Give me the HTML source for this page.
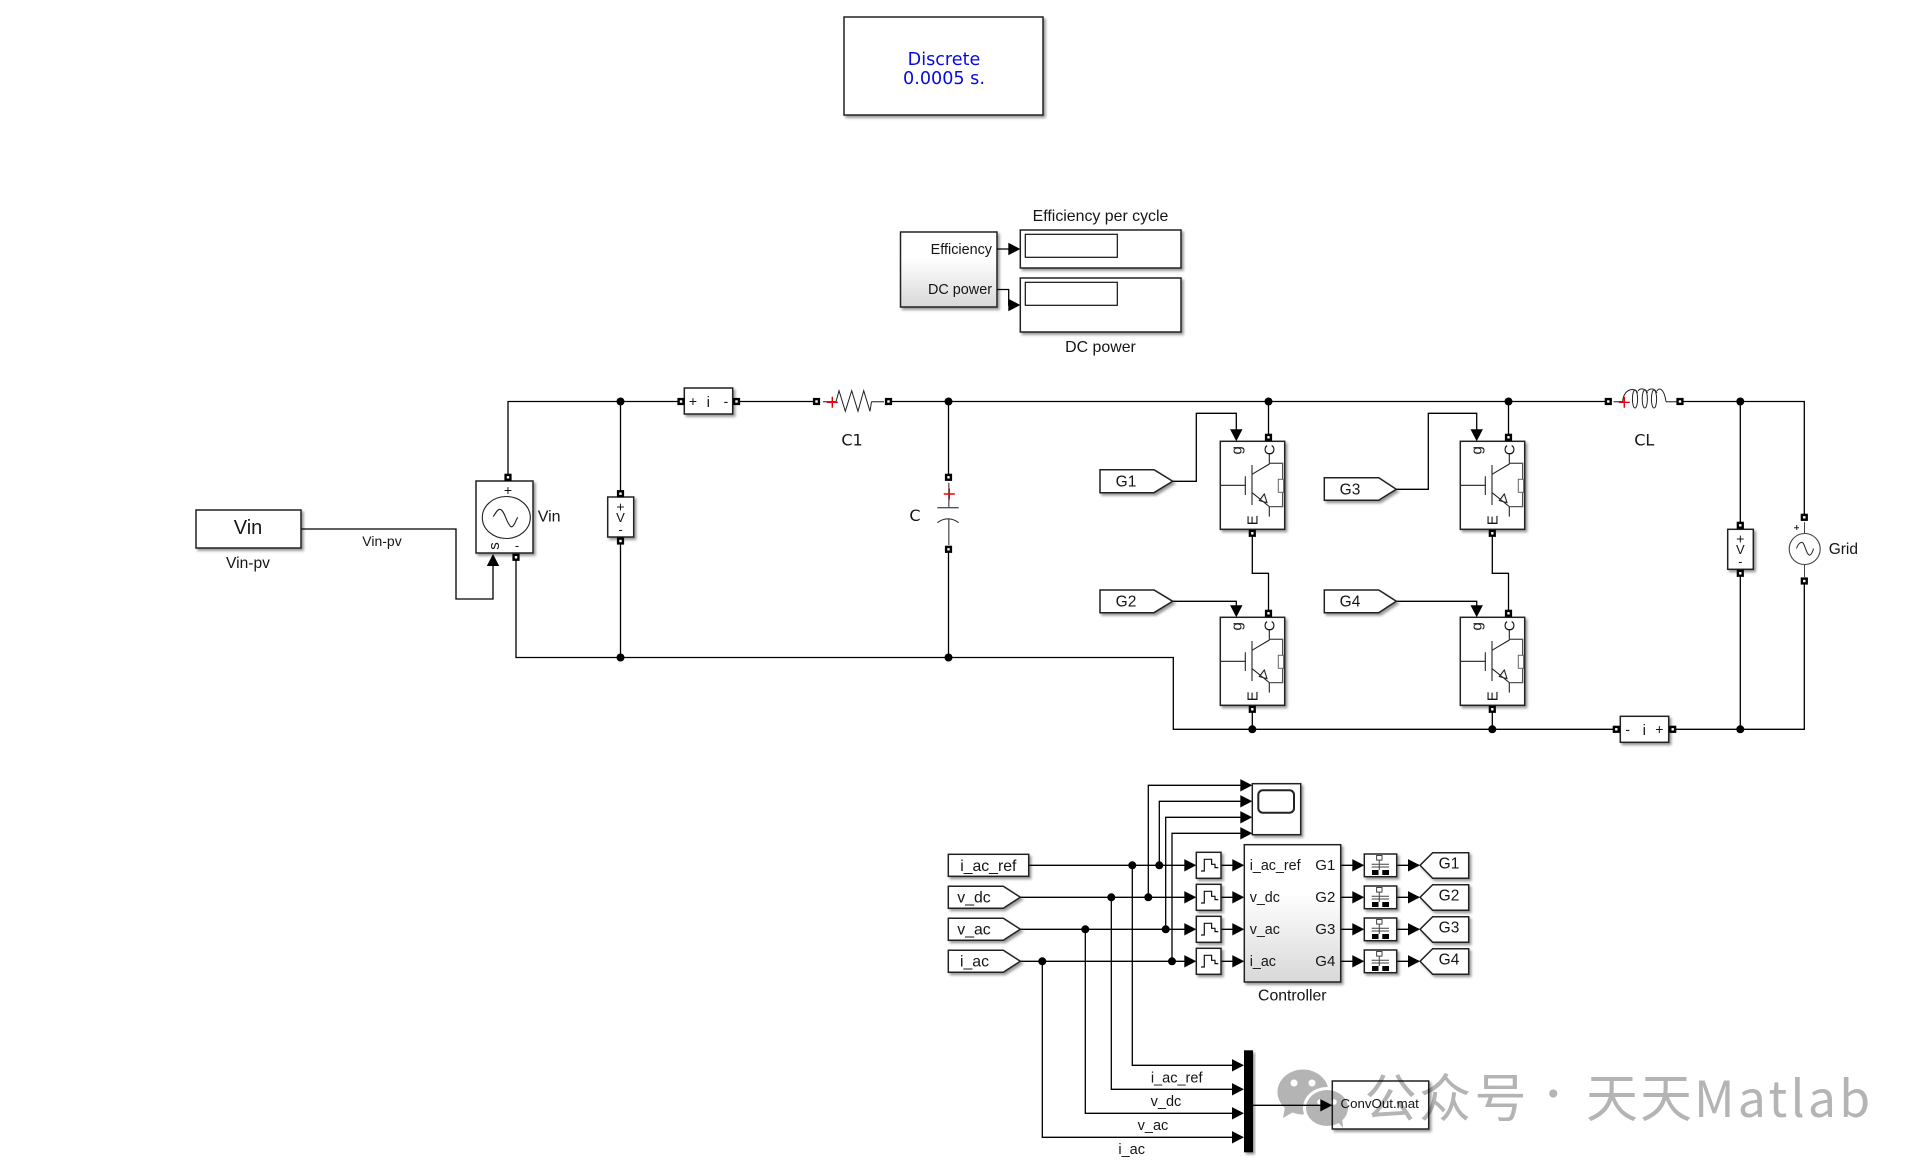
<!DOCTYPE html>
<html><head><meta charset="utf-8"><title>Simulink model</title>
<style>
html,body{margin:0;padding:0;background:#fff;width:1931px;height:1175px;overflow:hidden}
svg{display:block}
text{font-family:"Liberation Sans",Arial,sans-serif;fill:#151515}
.d{font-family:"DejaVu Sans",sans-serif}
.m{text-anchor:middle}
.e{text-anchor:end}
.w{fill:none;stroke:#000;stroke-width:1.3}
.b{fill:#fff;stroke:#222;stroke-width:1.5;filter:url(#sh)}
.i{fill:none;stroke:#222;stroke-width:1.1}
.g{fill:none;stroke:#555;stroke-width:1.3}
.wm{font-family:"Noto Sans CJK SC","Liberation Sans",sans-serif;fill:#b4b4b4;font-size:52px}
</style></head><body>
<svg width="1931" height="1175" viewBox="0 0 1931 1175" xmlns="http://www.w3.org/2000/svg">
<defs>
<filter id="sh" x="-20%" y="-20%" width="150%" height="150%"><feDropShadow dx="2" dy="2.2" stdDeviation="1.4" flood-color="#000" flood-opacity=".4"/></filter>
<linearGradient id="gr" x1="0" y1="0" x2="0" y2="1"><stop offset="0" stop-color="#fff"/><stop offset=".35" stop-color="#fff"/><stop offset="1" stop-color="#d8d8d8"/></linearGradient>
<path id="ar" d="M-12 -6.2L0 0L-12 6.2z" fill="#000"/>
<g id="pt"><rect x="-3.6" y="-3.6" width="7.2" height="7.2" fill="#000"/><rect x="-1.2" y="-1.2" width="2.4" height="2.4" fill="#fff"/></g>
<circle id="j" r="4" fill="#000"/>
<g id="igbt">
<rect class="b" width="64.4" height="88"/>
<path class="i" d="M0.7 44H25M25 35V53.7M31.7 23.7V63.7M31.7 33L49 22.7V12.7M31.7 51.3L49 65.3V75.3M44 52.7L39 59.3L46.7 61.3Z"/>
<path class="g" d="M49 22H62.3V65.3H49"/>
<rect x="58" y="38" width="5.3" height="13" fill="#fff" stroke="#666" stroke-width="1"/>
</g>
<g id="zoh"><rect class="b" width="24.7" height="26"/><path fill="none" stroke="#111" stroke-width="1.2" d="M4.7 18.7H8V7H15.3V12H18.7V15.3H22"/></g>
<g id="dt"><rect class="b" width="32.4" height="22.7"/>
<rect x="12.3" y="1.5" width="5.4" height="4.6" fill="#fff" stroke="#444"/>
<path fill="none" stroke="#444" d="M15 6V16M7.3 10.3H24.7M7.3 13H24.7"/>
<rect x="7.7" y="16" width="6.5" height="5" fill="#000"/><rect x="18" y="16" width="6.7" height="5" fill="#000"/></g>
</defs>

<!-- Discrete -->
<rect class="b" x="844" y="17" width="199" height="98"/>
<text class="d m" x="944" y="65" font-size="17.6" style="fill:#0a0adf">Discrete</text>
<text class="d m" x="944" y="84" font-size="17.6" style="fill:#0a0adf">0.0005 s.</text>

<!-- Efficiency -->
<rect class="b" x="900.5" y="232" width="96.5" height="75" style="fill:url(#gr)"/>
<text class="e" x="992" y="254" font-size="14.4">Efficiency</text>
<text class="e" x="992" y="294" font-size="14.4">DC power</text>
<rect class="b" x="1020.3" y="230" width="160.7" height="38"/>
<rect x="1025.3" y="234.3" width="92" height="23" fill="#fff" stroke="#111" stroke-width="1.2"/>
<rect class="b" x="1020.3" y="278" width="160.7" height="54"/>
<rect x="1025.3" y="282.3" width="92" height="23" fill="#fff" stroke="#111" stroke-width="1.2"/>
<text class="m" x="1100.5" y="221" font-size="15.9">Efficiency per cycle</text>
<text class="m" x="1100.5" y="352" font-size="15.9">DC power</text>
<path class="w" d="M997 249H1010M997 289.5H1008.7V305H1010"/>
<use href="#ar" transform="translate(1020.3,249)"/><use href="#ar" transform="translate(1020.3,305)"/>

<!-- wires power -->
<path class="w" d="M508 477V401.5H681M736.5 401.5H816.5M888.5 401.5H1608.3M1680 401.5H1804.3V517.3M1804.3 581V729.3H1672.7M1616.3 729.3H1173.3V657.5H516V557"/>
<path class="w" d="M620.5 401.5V493.7M620.5 541V657.5M948.5 401.5V477.3M948.5 549.3V657.5"/>
<path class="w" d="M1268.5 401.5V437.3M1508.5 401.5V437.3M1740.3 401.5V525.3M1740.3 573.3V729.3"/>
<path class="w" d="M1252.3 533.3V573.3H1268.5V613.3M1492.3 533.3V573.3H1508.5V613.3M1252.3 709.3V729.3M1492.3 709.3V729.3"/>
<path class="w" d="M301 529H456V599H493V566"/>
<path class="w" d="M1172.7 481.3H1196.3V413.3H1236.3V430M1172.7 601.3H1236.3V606M1396.3 489.3H1428.3V413.3H1476.7V430M1396.3 601.3H1476.7V606"/>

<!-- Vin -->
<rect class="b" x="196" y="510" width="105" height="38"/>
<text class="m" x="248" y="534" font-size="20">Vin</text>
<text class="m" x="248" y="568" font-size="15.6">Vin-pv</text>
<text class="m" x="382" y="546" font-size="14">Vin-pv</text>
<rect class="b" x="476" y="481" width="57" height="72"/>
<ellipse cx="506.3" cy="517.5" rx="24" ry="21" fill="none" stroke="#222" stroke-width="1.1"/>
<path fill="none" stroke="#222" stroke-width="1.1" d="M493.3 516.7C496 512 498 509 500 509.3C504 510 506 520 508.5 523.5C510 526 511 527.5 512.5 526.5C514.5 525 516 520 517.7 517.3"/>
<text class="m" x="508" y="495" font-size="14">+</text>
<text class="m" font-size="15" transform="translate(499,546) rotate(-90)">s</text>
<text class="m" x="517" y="550" font-size="13">-</text>
<text x="537.7" y="521.7" font-size="16">Vin</text>
<use href="#ar" transform="translate(493,554) rotate(-90)"/>
<use href="#pt" x="508" y="477.3"/><use href="#pt" x="516" y="557.3"/>

<!-- V meter 1 -->
<rect class="b" x="607.7" y="497" width="26" height="40"/>
<text class="m" x="620.5" y="511.5" font-size="14">+</text>
<text class="m" x="620.5" y="522" font-size="13">V</text>
<text class="m" x="620.5" y="534" font-size="13">-</text>
<use href="#pt" x="620.5" y="493.7"/><use href="#pt" x="620.5" y="541"/>

<!-- i meter 1 -->
<rect class="b" x="684.3" y="388" width="48.4" height="26"/>
<text class="m" x="693" y="406" font-size="14">+</text>
<text class="m" x="708.3" y="407" font-size="15">i</text>
<text class="m" x="726" y="406" font-size="14">-</text>
<use href="#pt" x="681" y="401.5"/><use href="#pt" x="736.5" y="401.5"/>

<!-- C1 resistor -->
<path class="g" d="M823 401.7H836M871.5 401.7H884"/>
<path fill="none" stroke="#222" stroke-width="1" d="M836 401.7L839 390.7L845.3 411.3L851.7 390.7L858 411.3L863.7 390.7L870 411.3L871.5 401.7"/>
<path fill="none" stroke="#e8000d" stroke-width="1.4" d="M826.8 402.3H837.8M832.3 396.8V407.8"/>
<use href="#pt" x="816.5" y="401.5"/><use href="#pt" x="888.5" y="401.5"/>
<text class="d m" x="852" y="445.7" font-size="16">C1</text>

<!-- C -->
<path class="g" d="M948.8 482.7V507.7M937.3 507.7H958.7M948.8 519V545"/>
<path fill="none" stroke="#333" stroke-width="1.1" d="M937.3 522.7Q948 515 958.7 522.7"/>
<path fill="none" stroke="#e8000d" stroke-width="1.4" d="M943.8 494H954.8M949.3 488.5V499.5"/>
<use href="#pt" x="948.5" y="477.3"/><use href="#pt" x="948.5" y="549.3"/>
<text class="d m" x="915" y="521" font-size="16">C</text>

<!-- Gotos G1..G4 -->
<path class="b" d="M1100 469.7H1154L1172.7 481.3L1154 492.7H1100Z"/>
<text class="m" x="1126" y="486.3" font-size="15.5">G1</text>
<path class="b" d="M1100 590H1154L1172.7 601.3L1154 612.7H1100Z"/>
<text class="m" x="1126" y="606.6" font-size="15.5">G2</text>
<path class="b" d="M1324.3 477.7H1378.7L1396.3 489.3L1378.7 500.3H1324.3Z"/>
<text class="m" x="1350" y="494.3" font-size="15.5">G3</text>
<path class="b" d="M1324.3 590H1378.7L1396.3 601.3L1378.7 612.7H1324.3Z"/>
<text class="m" x="1350" y="606.6" font-size="15.5">G4</text>

<!-- IGBTs -->
<use href="#igbt" x="1220.3" y="441.3"/><use href="#igbt" x="1220.3" y="617.3"/>
<use href="#igbt" x="1460.3" y="441.3"/><use href="#igbt" x="1460.3" y="617.3"/>
<g transform="translate(1220.3,441.3)"><text class="m" font-size="15" transform="translate(21,9) rotate(-90)">g</text><text class="m" font-size="15" transform="translate(54,8.5) rotate(-90)">C</text><text class="m" font-size="15" transform="translate(37,79) rotate(-90)">E</text></g>
<g transform="translate(1220.3,617.3)"><text class="m" font-size="15" transform="translate(21,9) rotate(-90)">g</text><text class="m" font-size="15" transform="translate(54,8.5) rotate(-90)">C</text><text class="m" font-size="15" transform="translate(37,79) rotate(-90)">E</text></g>
<g transform="translate(1460.3,441.3)"><text class="m" font-size="15" transform="translate(21,9) rotate(-90)">g</text><text class="m" font-size="15" transform="translate(54,8.5) rotate(-90)">C</text><text class="m" font-size="15" transform="translate(37,79) rotate(-90)">E</text></g>
<g transform="translate(1460.3,617.3)"><text class="m" font-size="15" transform="translate(21,9) rotate(-90)">g</text><text class="m" font-size="15" transform="translate(54,8.5) rotate(-90)">C</text><text class="m" font-size="15" transform="translate(37,79) rotate(-90)">E</text></g>
<use href="#ar" transform="translate(1236.3,441.3) rotate(90)"/><use href="#ar" transform="translate(1236.3,617.3) rotate(90)"/>
<use href="#ar" transform="translate(1476.7,441.3) rotate(90)"/><use href="#ar" transform="translate(1476.7,617.3) rotate(90)"/>
<use href="#pt" x="1268.5" y="437.3"/><use href="#pt" x="1252.3" y="533.3"/><use href="#pt" x="1268.5" y="613.3"/><use href="#pt" x="1252.3" y="709.3"/>
<use href="#pt" x="1508.5" y="437.3"/><use href="#pt" x="1492.3" y="533.3"/><use href="#pt" x="1508.5" y="613.3"/><use href="#pt" x="1492.3" y="709.3"/>

<!-- inductor -->
<path class="g" d="M1613.5 401.7H1622.7M1666 401.7H1676.7"/>
<path fill="none" stroke="#222" stroke-width="1" d="M1622.7 402C1623 388 1636 387 1637.5 393M1638 391C1640 388 1646 388 1647.5 393M1647.5 391C1650 388 1655 388 1657 393M1657 391C1659 387 1664 388 1666 401.7"/>
<ellipse cx="1635" cy="399" rx="2.6" ry="9" fill="none" stroke="#222"/><ellipse cx="1644.8" cy="399" rx="2.6" ry="9" fill="none" stroke="#222"/><ellipse cx="1654" cy="399" rx="2.6" ry="9" fill="none" stroke="#222"/>
<path fill="none" stroke="#e8000d" stroke-width="1.4" d="M1618.8 402.3H1629.8M1624.3 396.8V407.8"/>
<use href="#pt" x="1608.3" y="401.5"/><use href="#pt" x="1680" y="401.5"/>
<text class="d m" x="1644.3" y="445.7" font-size="16">CL</text>

<!-- V meter 2 -->
<rect class="b" x="1727.7" y="529.3" width="25.6" height="40"/>
<text class="m" x="1740.3" y="543.5" font-size="14">+</text>
<text class="m" x="1740.3" y="554" font-size="13">V</text>
<text class="m" x="1740.3" y="566" font-size="13">-</text>
<use href="#pt" x="1740.3" y="525.3"/><use href="#pt" x="1740.3" y="573.3"/>

<!-- Grid -->
<circle cx="1804.7" cy="549" r="15.5" fill="#fff" stroke="#444" stroke-width="1.1"/>
<path fill="none" stroke="#222" stroke-width="1" d="M1796.5 548.5C1798 544 1801 541 1803 543C1805 545 1806 553 1809 555C1811 556 1813 551 1813.5 548.5"/>
<path fill="none" stroke="#444" d="M1804.5 522.3V533.5M1804.5 564.5V577"/>
<path fill="none" stroke="#222" d="M1794 527.7H1799M1796.7 525V530"/>
<use href="#pt" x="1804.3" y="517.3"/><use href="#pt" x="1804.3" y="581"/>
<text x="1828.7" y="554" font-size="15.5">Grid</text>

<!-- i meter 2 -->
<rect class="b" x="1620.3" y="716.3" width="48.4" height="26"/>
<text class="m" x="1627.7" y="734" font-size="14">-</text>
<text class="m" x="1644.3" y="735" font-size="15">i</text>
<text class="m" x="1659.3" y="734" font-size="14">+</text>
<use href="#pt" x="1616.3" y="729.3"/><use href="#pt" x="1672.7" y="729.3"/>

<!-- junctions -->
<use href="#j" x="620.5" y="401.5"/><use href="#j" x="620.5" y="657.5"/><use href="#j" x="948.5" y="401.5"/><use href="#j" x="948.5" y="657.5"/>
<use href="#j" x="1268.5" y="401.5"/><use href="#j" x="1508.5" y="401.5"/><use href="#j" x="1740.3" y="401.5"/>
<use href="#j" x="1252.3" y="729.3"/><use href="#j" x="1492.3" y="729.3"/><use href="#j" x="1740.3" y="729.3"/>

<!-- control wires -->
<path class="w" d="M1028.7 865.3H1186M1020.3 897.3H1186M1020.3 929.3H1186M1020.3 961.3H1186"/>
<path class="w" d="M1148.3 897.3V785.3H1242M1159.3 865.3V801.3H1242M1165.7 929.3V817.3H1242M1172 961.3V833.3H1242"/>
<path class="w" d="M1132.3 865.3V1065.3H1234M1111.3 897.3V1089.3H1234M1085.3 929.3V1113.3H1234M1042.3 961.3V1137.3H1234M1253 1105.3H1322"/>
<path class="w" d="M1221 865.3H1234M1221 897.3H1234M1221 929.3H1234M1221 961.3H1234"/>
<path class="w" d="M1340.7 865.3H1354M1340.7 897.3H1354M1340.7 929.3H1354M1340.7 961.3H1354M1396.7 865.3H1410M1396.7 897.3H1410M1396.7 929.3H1410M1396.7 961.3H1410"/>
<use href="#j" x="1132.3" y="865.3"/><use href="#j" x="1159.3" y="865.3"/><use href="#j" x="1111.3" y="897.3"/><use href="#j" x="1148.3" y="897.3"/>
<use href="#j" x="1085.3" y="929.3"/><use href="#j" x="1165.7" y="929.3"/><use href="#j" x="1042.3" y="961.3"/><use href="#j" x="1172" y="961.3"/>

<!-- From blocks -->
<rect class="b" x="948.3" y="854.3" width="80.4" height="22"/>
<text class="m" x="988.3" y="871" font-size="15.8">i_ac_ref</text>
<path class="b" d="M948.3 886.3H1003.3L1020.3 897.3L1003.3 908.3H948.3Z"/>
<text x="957.3" y="902.3" font-size="15.8">v_dc</text>
<path class="b" d="M948.3 918.3H1003.3L1020.3 929.3L1003.3 940.3H948.3Z"/>
<text x="957.3" y="934.3" font-size="15.8">v_ac</text>
<path class="b" d="M948.3 950.3H1003.3L1020.3 961.3L1003.3 972.3H948.3Z"/>
<text x="960" y="966.3" font-size="15.8">i_ac</text>

<!-- Scope -->
<rect class="b" x="1252.3" y="783.7" width="48.4" height="51"/>
<rect x="1258.3" y="790.3" width="35.7" height="22.4" rx="4.5" fill="#fff" stroke="#222" stroke-width="2"/>
<use href="#ar" transform="translate(1252.3,785.3)"/><use href="#ar" transform="translate(1252.3,801.3)"/><use href="#ar" transform="translate(1252.3,817.3)"/><use href="#ar" transform="translate(1252.3,833.3)"/>

<!-- ZOH -->
<use href="#zoh" x="1196.3" y="852.3"/><use href="#zoh" x="1196.3" y="884.3"/><use href="#zoh" x="1196.3" y="916.3"/><use href="#zoh" x="1196.3" y="948.3"/>
<use href="#ar" transform="translate(1196.3,865.3)"/><use href="#ar" transform="translate(1196.3,897.3)"/><use href="#ar" transform="translate(1196.3,929.3)"/><use href="#ar" transform="translate(1196.3,961.3)"/>
<use href="#ar" transform="translate(1244.3,865.3)"/><use href="#ar" transform="translate(1244.3,897.3)"/><use href="#ar" transform="translate(1244.3,929.3)"/><use href="#ar" transform="translate(1244.3,961.3)"/>

<!-- Controller -->
<rect class="b" x="1244.3" y="844.7" width="96.4" height="137.3" style="fill:url(#gr)"/>
<text x="1249.7" y="870" font-size="14.3">i_ac_ref</text>
<text x="1249.7" y="902" font-size="14.3">v_dc</text>
<text x="1249.7" y="934" font-size="14.3">v_ac</text>
<text x="1249.7" y="966" font-size="14.3">i_ac</text>
<text class="e" x="1335.3" y="870" font-size="15">G1</text>
<text class="e" x="1335.3" y="902" font-size="15">G2</text>
<text class="e" x="1335.3" y="934" font-size="15">G3</text>
<text class="e" x="1335.3" y="966" font-size="15">G4</text>
<text class="m" x="1292.3" y="1000.7" font-size="15.8">Controller</text>

<!-- data type -->
<use href="#dt" x="1364.3" y="854"/><use href="#dt" x="1364.3" y="886"/><use href="#dt" x="1364.3" y="918"/><use href="#dt" x="1364.3" y="950"/>
<use href="#ar" transform="translate(1364.3,865.3)"/><use href="#ar" transform="translate(1364.3,897.3)"/><use href="#ar" transform="translate(1364.3,929.3)"/><use href="#ar" transform="translate(1364.3,961.3)"/>
<use href="#ar" transform="translate(1420,865.3)"/><use href="#ar" transform="translate(1420,897.3)"/><use href="#ar" transform="translate(1420,929.3)"/><use href="#ar" transform="translate(1420,961.3)"/>

<!-- Goto right -->
<path class="b" d="M1420 865.3L1432.7 852.7H1468.7V878.3H1432.7Z"/><text class="m" x="1449" y="868.7" font-size="15.5">G1</text>
<path class="b" d="M1420 897.3L1432.7 884.7H1468.7V910.3H1432.7Z"/><text class="m" x="1449" y="900.7" font-size="15.5">G2</text>
<path class="b" d="M1420 929.3L1432.7 916.7H1468.7V942.3H1432.7Z"/><text class="m" x="1449" y="932.7" font-size="15.5">G3</text>
<path class="b" d="M1420 961.3L1432.7 948.7H1468.7V974.3H1432.7Z"/><text class="m" x="1449" y="964.7" font-size="15.5">G4</text>

<!-- Mux -->
<rect x="1244" y="1050.3" width="9" height="102" fill="#000" filter="url(#sh)"/>
<use href="#ar" transform="translate(1244,1065.3)"/><use href="#ar" transform="translate(1244,1089.3)"/><use href="#ar" transform="translate(1244,1113.3)"/><use href="#ar" transform="translate(1244,1137.3)"/>
<text class="m" x="1176.7" y="1082.3" font-size="14.5">i_ac_ref</text>
<text class="m" x="1166" y="1106" font-size="14.5">v_dc</text>
<text class="m" x="1153" y="1130" font-size="14.5">v_ac</text>
<text class="m" x="1131.7" y="1154" font-size="14.5">i_ac</text>

<!-- To file -->
<rect class="b" x="1332.3" y="1081" width="96.4" height="48"/>
<use href="#ar" transform="translate(1332.3,1105.3)"/>
<text class="m" x="1379.7" y="1108" font-size="13.3">ConvOut.mat</text>

<!-- watermark -->
<g style="mix-blend-mode:multiply">
<ellipse cx="1303" cy="1092" rx="25.5" ry="22.5" fill="#b4b4b4"/>
<path d="M1285 1107L1283 1118L1295 1111Z" fill="#b4b4b4"/>
<ellipse cx="1327" cy="1108" rx="24" ry="21" fill="#fff"/>
<ellipse cx="1327" cy="1108" rx="21" ry="18" fill="#b4b4b4"/>
<path d="M1337 1121L1343 1128L1342 1116Z" fill="#b4b4b4"/>
<circle cx="1294" cy="1083" r="3.5" fill="#fff"/><circle cx="1312" cy="1083" r="3.5" fill="#fff"/>
<circle cx="1320" cy="1102" r="2.8" fill="#fff"/><circle cx="1334" cy="1102" r="2.8" fill="#fff"/>
<text class="wm" x="1364.5 1419 1474.5" y="1117">公众号</text>
<text class="wm m" x="1553.3" y="1108" style="font-size:38px">·</text>
<text class="wm" x="1586 1640" y="1117">天天</text>
<text class="wm" x="1694" y="1117" style="font-size:50px;letter-spacing:3.2px">Matlab</text>
</g>
</svg>
</body></html>
